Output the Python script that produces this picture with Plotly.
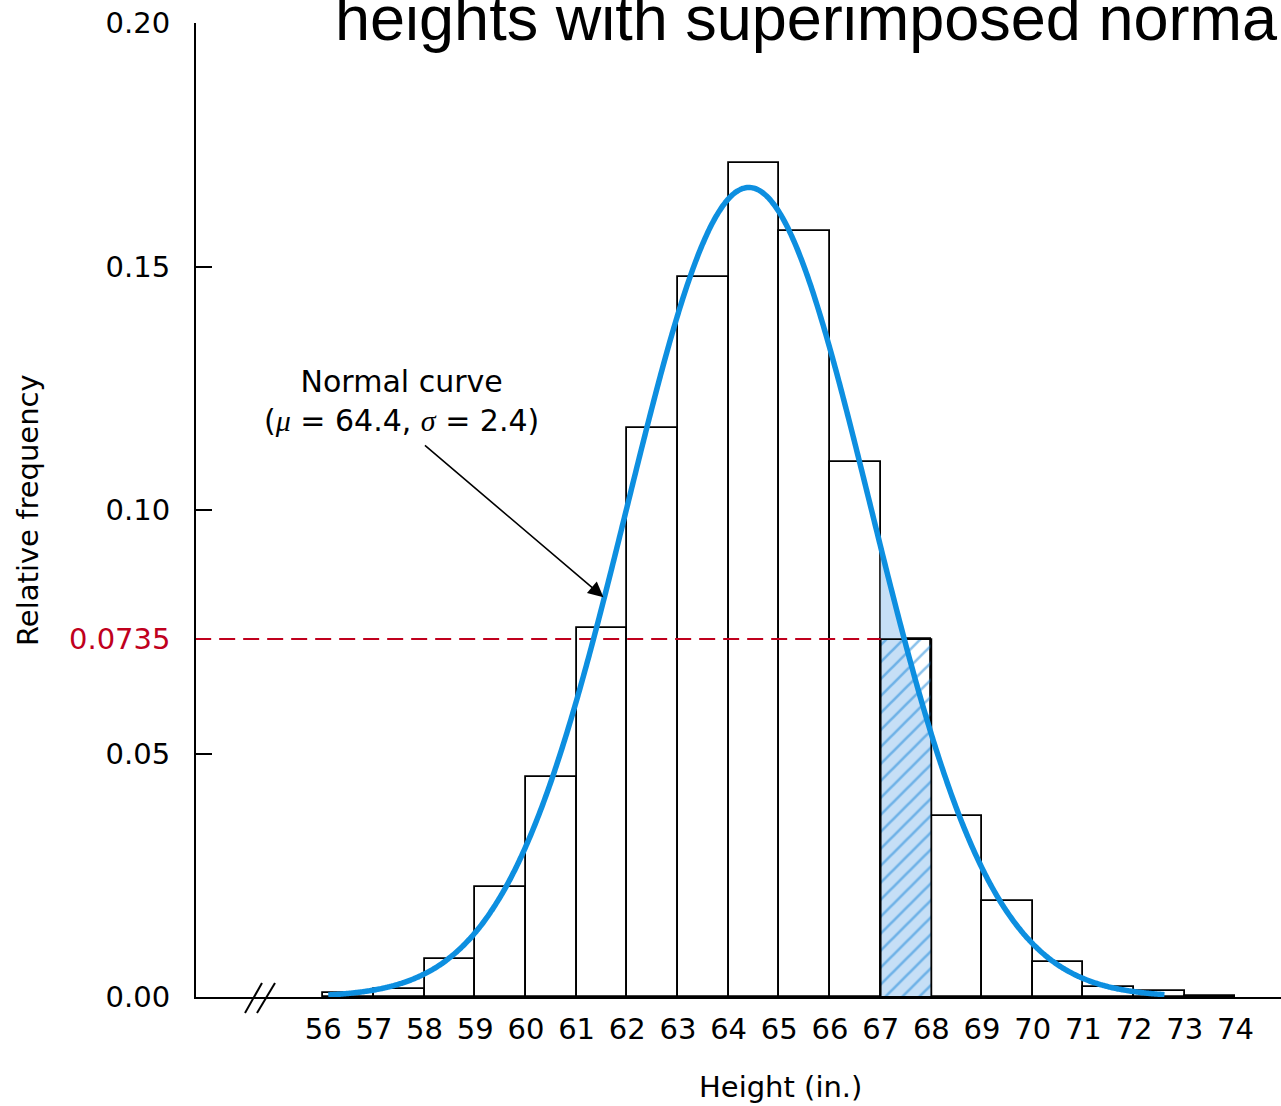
import numpy as np
import plotly.graph_objects as go

# ---------------- data ----------------
bin_left = list(range(56, 74))          # left edges of 1-inch bins 56..73
rel_freq = [0.0008, 0.0016, 0.0078, 0.0226, 0.0451, 0.0757, 0.1168, 0.1478, 0.1712,
            0.1573, 0.1099, 0.0735, 0.0372, 0.0197, 0.0072, 0.0020, 0.0013, 0.0003]
x_tick_vals = list(range(56, 75))
y_tick_vals = [0.00, 0.05, 0.10, 0.15, 0.20]
y_tick_text = ["0.00", "0.05", "0.10", "0.15", "0.20"]
mu = 64.4
sigma = 2.4
curve_start, curve_end = 56.1, 72.6
shaded_bin = 67
ref_level = 0.0735

# ---------------- styles ----------------
FONT = "DejaVu Sans"
FS = 29
BLUE = "#0d8fe0"
HATCH = "#1584d8"
LIGHT_BLUE = "#c6dff6"
RED = "#c0001d"
W, H = 1281, 1106
ML, MR, MT, MB = 196, 0, 23, 109
PW, PH = W - ML - MR, H - MT - MB


def pdf(x):
    return np.exp(-0.5 * ((x - mu) / sigma) ** 2) / (sigma * np.sqrt(2 * np.pi))


def px_x(p):  # pixel -> paper
    return (p - ML) / PW


def px_y(p):
    return (H - MB - p) / PH


fig = go.Figure()

# histogram bars
centers = [b + 0.5 for b in bin_left]
fig.add_trace(go.Bar(x=centers, y=rel_freq, width=1,
                     marker=dict(color="white", line=dict(color="black", width=1.8)),
                     hoverinfo="skip", showlegend=False))

# light blue area under curve in shaded bin
k = bin_left.index(shaded_bin)
xs = np.linspace(shaded_bin, shaded_bin + 1, 60)
fig.add_trace(go.Scatter(x=list(xs) + [shaded_bin + 1, shaded_bin],
                         y=list(pdf(xs)) + [0, 0],
                         fill="toself", fillcolor=LIGHT_BLUE, mode="none",
                         hoverinfo="skip", showlegend=False))

# hatched bar for shaded bin
fb = rel_freq[k]
fig.add_trace(go.Scatter(x=[shaded_bin, shaded_bin, shaded_bin + 1, shaded_bin + 1, shaded_bin],
                         y=[0, fb, fb, 0, 0],
                         fill="toself", fillcolor="rgba(0,0,0,0)",
                         fillpattern=dict(shape="/", fgcolor=HATCH, size=12, solidity=0.22),
                         mode="lines", line=dict(color="black", width=1.8),
                         hoverinfo="skip", showlegend=False))

# red dashed reference line
fig.add_trace(go.Scatter(x=[53.0, shaded_bin], y=[ref_level, ref_level], mode="lines",
                         line=dict(color=RED, width=2, dash="16px,8px"),
                         hoverinfo="skip", showlegend=False))

# normal curve
xc = np.linspace(curve_start, curve_end, 600)
fig.add_trace(go.Scatter(x=xc, y=pdf(xc), mode="lines",
                         line=dict(color=BLUE, width=5.5, shape="spline"),
                         hoverinfo="skip", showlegend=False))

# axis-break marks
shapes = []
for (x0, x1) in [(245, 262), (257, 275)]:
    shapes.append(dict(type="line", xref="paper", yref="paper",
                       x0=px_x(x0), x1=px_x(x1), y0=px_y(1013), y1=px_y(983),
                       line=dict(color="black", width=2)))

SERIF = "font-family:Liberation Serif"
annotations = [
    dict(text="heights with superimposed normal curve", xref="paper", yref="paper",
         x=px_x(333), y=px_y(55), xanchor="left", yanchor="bottom", showarrow=False,
         font=dict(family="Liberation Sans", size=63, color="black")),
    dict(text=("Normal curve<br>(<span style='%s'><i>μ</i></span> = 64.4, "
               "<span style='%s'><i>σ</i></span> = 2.4)") % (SERIF, SERIF),
         xref="paper", yref="paper",
         x=px_x(401), y=px_y(401), xanchor="center", yanchor="middle", showarrow=False,
         font=dict(family=FONT, size=30, color="black")),
    dict(text="", x=61.53, y=0.0821, xref="x", yref="y", showarrow=True,
         ax=423 - 603, ay=444 - 597, axref="pixel", ayref="pixel",
         arrowhead=2, arrowsize=1.9, arrowwidth=1.6, arrowcolor="black", standoff=0),
    dict(text="0.0735", xref="paper", yref="y", x=px_x(172), y=ref_level,
         xanchor="right", yanchor="middle", showarrow=False,
         font=dict(family=FONT, size=FS, color=RED)),
    dict(text="Height (in.)", xref="paper", yref="paper", x=px_x(780), y=px_y(1087),
         xanchor="center", yanchor="middle", showarrow=False,
         font=dict(family=FONT, size=FS, color="black")),
    dict(text="Relative frequency", xref="paper", yref="paper", x=px_x(28), y=0.5,
         xanchor="center", yanchor="middle", textangle=-90, showarrow=False,
         font=dict(family=FONT, size=FS, color="black")),
]

fig.update_layout(
    width=W, height=H,
    margin=dict(l=ML, r=MR, t=MT, b=MB, pad=0),
    paper_bgcolor="white", plot_bgcolor="white",
    showlegend=False, bargap=0,
    shapes=shapes, annotations=annotations,
    font=dict(family=FONT, size=FS, color="black"),
)
fig.update_xaxes(range=[53.49, 74.90], tickvals=x_tick_vals, ticks="",
                 showline=True, linecolor="black", linewidth=2, showgrid=False,
                 zeroline=False, ticklabelstandoff=5,
                 tickfont=dict(family=FONT, size=FS, color="black"))
fig.update_yaxes(range=[0, 0.20], tickvals=y_tick_vals, ticktext=y_tick_text,
                 ticks="inside", ticklen=16, tickwidth=2, tickcolor="black",
                 showline=True, linecolor="black", linewidth=2, showgrid=False,
                 zeroline=False, ticklabelstandoff=18,
                 tickfont=dict(family=FONT, size=FS, color="black"))

fig.write_html("out.html")
